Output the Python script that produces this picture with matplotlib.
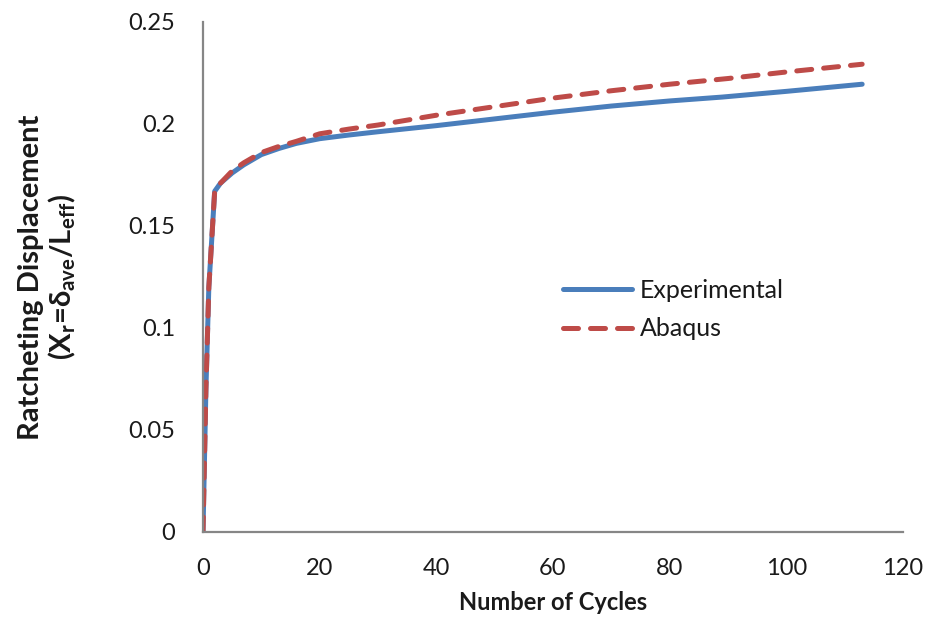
import matplotlib
matplotlib.use("Agg")
import matplotlib.pyplot as plt

# readings
exp_cycles = [0, 0.5, 1, 2, 3, 5, 7, 10, 13, 16, 20, 25, 30, 40, 50, 60, 70, 80, 89, 100, 113]
exp_disp = [0, 0.07, 0.12, 0.167, 0.171, 0.176, 0.180, 0.185, 0.188, 0.1905, 0.1928,
            0.1946, 0.1962, 0.1992, 0.2025, 0.2058, 0.2088, 0.2113, 0.2132, 0.216, 0.2195]

abq_cycles = [0, 0.5, 1, 2, 3, 5, 7, 10, 13, 16, 20, 25, 30, 40, 50, 60, 70, 80, 90, 100, 113]
abq_disp = [0, 0.07, 0.12, 0.167, 0.171, 0.177, 0.181, 0.186, 0.189, 0.1915, 0.1952,
            0.1975, 0.1995, 0.2043, 0.2085, 0.2127, 0.2163, 0.2195, 0.2223, 0.2255, 0.2293]

x_ticks = [0, 20, 40, 60, 80, 100, 120]
y_ticks = [0, 0.05, 0.1, 0.15, 0.2, 0.25]
y_tick_labels = ["0", "0.05", "0.1", "0.15", "0.2", "0.25"]

plt.rcParams["font.family"] = ["Lato", "DejaVu Sans"]
plt.rcParams["mathtext.fontset"] = "custom"
plt.rcParams["mathtext.rm"] = "Lato:bold"
plt.rcParams["mathtext.it"] = "Lato:bold"
plt.rcParams["mathtext.bf"] = "Lato:bold"

TEXT = "#1a1a1a"
AXIS = "#868686"

fig = plt.figure(figsize=(9.26, 6.19), dpi=100)
ax = fig.add_axes([203 / 926, 87 / 619, 700 / 926, 510 / 619])

ax.plot(exp_cycles, exp_disp, color="#4A7EBB", lw=3.6, solid_capstyle="round",
        solid_joinstyle="round", label="Experimental")
ax.plot(abq_cycles, abq_disp, color="#BE4B48", lw=3.6, ls=(0, (3.0, 2.4)),
        dash_capstyle="round", dash_joinstyle="round", label="Abaqus")

ax.set_xlim(0, 120)
ax.set_ylim(0, 0.25)
ax.set_xticks(x_ticks)
ax.set_yticks(y_ticks)
ax.set_yticklabels(y_tick_labels)
ax.tick_params(length=0, labelsize=17, colors=TEXT)
ax.tick_params(axis="x", pad=19)
ax.tick_params(axis="y", pad=20)

for side in ["top", "right"]:
    ax.spines[side].set_visible(False)
for side in ["left", "bottom"]:
    ax.spines[side].set_color(AXIS)
    ax.spines[side].set_linewidth(1.6)

ax.set_xlabel("Number of Cycles", fontsize=17, fontweight="bold", color=TEXT, labelpad=8)
ax.set_ylabel("Ratcheting Displacement\n"
              r"($\mathrm{X_r}$=$\mathrm{\delta_{ave}}$/$\mathrm{L_{eff}}$)",
              fontsize=21, fontweight="bold", color=TEXT, linespacing=1.15)
ax.yaxis.set_label_coords(-0.178, 0.5)

ax.legend(loc="center left", bbox_to_anchor=(563 / 926, 1 - 309.5 / 619),
          bbox_transform=fig.transFigure, frameon=False, fontsize=18,
          handlelength=2.75, handletextpad=0.32, labelspacing=0.62,
          borderpad=0, borderaxespad=0, labelcolor=TEXT)

fig.savefig("out.png", dpi=100)
